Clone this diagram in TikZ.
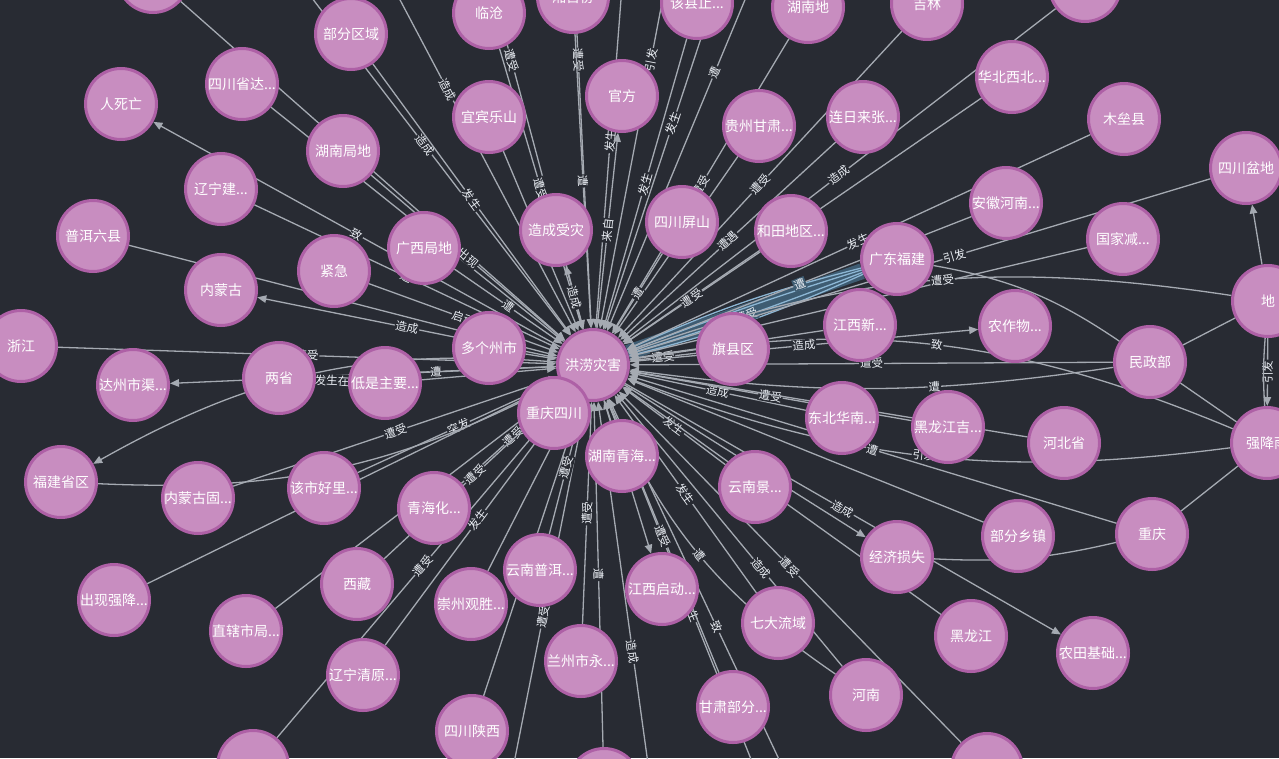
\documentclass[tikz,border=0pt]{standalone}
\usepackage{fontspec}
\setmainfont{Noto Sans CJK SC}
\usetikzlibrary{arrows.meta}
\definecolor{bgc}{RGB}{40,43,51}
\definecolor{nodef}{RGB}{200,141,192}
\definecolor{nodeb}{RGB}{174,96,166}
\definecolor{edgec}{RGB}{165,170,178}
\definecolor{labc}{RGB}{236,240,246}
\definecolor{bandc}{RGB}{62,92,114}
\definecolor{hlc}{RGB}{140,182,212}
\pgfdeclarelayer{back}
\pgfdeclarelayer{edges}
\pgfsetlayers{back,edges,main}
\newcommand\mynf{\fontsize{14pt}{16pt}\selectfont}
\newcommand\mylf{\fontsize{11.5pt}{13pt}\selectfont}
\newcommand\mkN[4]{\node[nd] (#1) at (#2,#3) {\makebox[0pt]{#4}};}
\begin{document}
\begin{tikzpicture}[x=1pt,y=-1pt,
 nd/.style={circle,fill=nodef,draw=nodeb,line width=3pt,minimum size=71pt,inner sep=0pt,font=\mynf,text=white},
 edge/.style={draw=edgec,line width=1.3pt,-{Triangle[length=9pt,width=7.5pt]}},
 plain/.style={draw=edgec,line width=1.3pt},
 hl/.style={draw=hlc,line width=1.3pt,-{Triangle[length=9pt,width=7.5pt]}},
 elab/.style={font=\mylf,text=labc,fill=bgc,inner sep=0.8pt,sloped},
 hlab/.style={elab,fill=bandc},
]
\useasboundingbox (0,0) rectangle (1279,758);
\begin{pgfonlayer}{back}
\fill[bgc] (0,0) rectangle (1279,758);
\end{pgfonlayer}

% nodes
\mkN{n0}{593}{365}{洪涝灾害}
\mkN{nTL}{153}{-23}{}
\mkN{nBQY}{351}{34}{部分区域}
\mkN{nLC}{489}{13}{临沧}
\mkN{nXS}{573}{-3}{湘首份}
\mkN{nGX}{697}{3}{该县止...}
\mkN{nHND}{808}{7}{湖南地}
\mkN{nJL}{927}{4}{吉林}
\mkN{nTR}{1085}{-14}{}
\mkN{nSCD}{242}{84}{四川省达...}
\mkN{nRSW}{121}{104}{人死亡}
\mkN{nGF}{622}{96}{官方}
\mkN{nYB}{489}{117}{宜宾乐山}
\mkN{nGZ}{759}{126}{贵州甘肃...}
\mkN{nLR}{863}{117}{连日来张...}
\mkN{nHB}{1012}{77}{华北西北...}
\mkN{nML}{1124}{119}{木垒县}
\mkN{nSCP}{1246}{168}{四川盆地}
\mkN{nHNJ}{343}{151}{湖南局地}
\mkN{nLNJ}{221}{189}{辽宁建...}
\mkN{nPE}{93}{236}{普洱六县}
\mkN{nZCS}{556}{230}{造成受灾}
\mkN{nSCPS}{682}{222}{四川屏山}
\mkN{nHT}{791}{231}{和田地区...}
\mkN{nAH}{1006}{203}{安徽河南...}
\mkN{nGJ}{1123}{239}{国家减...}
\mkN{nGD}{897}{259}{广东福建}
\mkN{nDI}{1268}{301}{地}
\mkN{nGXJ}{424}{248}{广西局地}
\mkN{nJJ}{334}{271}{紧急}
\mkN{nNMG}{221}{290}{内蒙古}
\mkN{nZJ}{21}{346}{浙江}
\mkN{nLS}{279}{378}{两省}
\mkN{nDZ}{133}{385}{达州市渠...}
\mkN{nDS}{385}{383}{低是主要...}
\mkN{nDG}{489}{348}{多个州市}
\mkN{nQX}{733}{349}{旗县区}
\mkN{nJXX}{860}{325}{江西新...}
\mkN{nNZW}{1015}{326}{农作物...}
\mkN{nMZB}{1150}{362}{民政部}
\mkN{nCQSC}{554}{413}{重庆四川}
\mkN{nDB}{842}{418}{东北华南...}
\mkN{nHLJJ}{948}{427}{黑龙江吉...}
\mkN{nHBS}{1064}{443}{河北省}
\mkN{nQJY}{1267}{443}{强降雨}
\mkN{nHNQ}{622}{456}{湖南青海...}
\mkN{nFJ}{61}{482}{福建省区}
\mkN{nNMGG}{198}{498}{内蒙古固...}
\mkN{nGSH}{324}{488}{该市好里...}
\mkN{nQHH}{434}{508}{青海化...}
\mkN{nYNJ}{755}{487}{云南景...}
\mkN{nJJS}{897}{557}{经济损失}
\mkN{nBFX}{1018}{536}{部分乡镇}
\mkN{nCQ}{1152}{534}{重庆}
\mkN{nCXQ}{114}{600}{出现强降...}
\mkN{nXZ}{357}{584}{西藏}
\mkN{nYNP}{540}{570}{云南普洱...}
\mkN{nCZ}{471}{604}{崇州观胜...}
\mkN{nJXQ}{662}{589}{江西启动...}
\mkN{nQD}{778}{623}{七大流域}
\mkN{nHLJ}{971}{636}{黑龙江}
\mkN{nNT}{1093}{653}{农田基础...}
\mkN{nZX}{246}{631}{直辖市局...}
\mkN{nLNQ}{363}{675}{辽宁清原...}
\mkN{nLZ}{581}{661}{兰州市永...}
\mkN{nHN}{866}{695}{河南}
\mkN{nGSB}{733}{707}{甘肃部分...}
\mkN{nSCSX}{472}{731}{四川陕西}
\mkN{nBL}{253}{766}{}
\mkN{nBM}{604}{784}{}
\mkN{nBR}{987}{769}{}

% off-picture ends
\coordinate (oE) at (253,-79);
\coordinate (oA) at (297,-195);
\coordinate (oG) at (427,-255);
\coordinate (oH) at (563,-255);
\coordinate (oF) at (627,-79);
\coordinate (oI) at (711,-255);
\coordinate (oJ) at (753,-119);
\coordinate (oB) at (841,-231);
\coordinate (oK) at (791,859);
\coordinate (oL) at (843,895);
\coordinate (oD) at (673,945);
\coordinate (oC) at (493,869);

\begin{pgfonlayer}{edges}
% highlighted band
\draw[bandc,line width=16pt] (n0) -- (nGD);
\draw[hl] (nGD) to[bend left=5] (n0);
\draw[hl] (nGD) to[bend left=2] node[hlab]{遭受} (n0);
\draw[hl] (nGD) to[bend right=2] (n0);
\draw[hl] (nGD) to[bend right=5] (n0);

% off-picture
\draw[edge] (oE) to node[elab,pos=0.54]{造成} (n0);
\draw[edge] (oA) to node[elab,pos=0.54]{造成} (n0);
\draw[edge] (oG) to node[elab,pos=0.54]{遭受} (n0);
\draw[edge] (oH) to node[elab,pos=0.54]{遭受} (n0);
\draw[edge] (oF) to node[elab,pos=0.54]{发生} (n0);
\draw[edge] (oI) to node[elab,pos=0.54]{引发} (n0);
\draw[edge] (oJ) to node[elab,pos=0.54]{发生} (n0);
\draw[edge] (oB) to node[elab,pos=0.54]{遭} (n0);
\draw[edge] (oK) to node[elab,pos=0.54]{发生} (n0);
\draw[edge] (oL) to node[elab,pos=0.54]{致} (n0);
\draw[edge] (oD) to node[elab,pos=0.54]{造成} (n0);
\draw[edge] (oC) to node[elab,pos=0.54]{遭受} (n0);

% into the centre
\draw[edge] (nTL) -- (n0);
\draw[edge] (nBQY) -- node[elab]{发生} (n0);
\draw[edge] (nLC) -- node[elab]{遭受} (n0);
\draw[edge] (nXS) -- node[elab]{遭} (n0);
\draw[edge] (nGX) -- node[elab]{发生} (n0);
\draw[edge] (nHND) -- node[elab]{遭受} (n0);
\draw[edge] (nJL) -- node[elab]{遭受} (n0);
\draw[edge] (nTR) -- node[elab]{造成} (n0);
\draw[edge] (nSCD) -- node[elab]{发生} (n0);
\draw[edge] (nYB) -- (n0);
\draw[edge] (nGZ) -- (n0);
\draw[edge] (nLR) -- node[elab]{遭遇} (n0);
\draw[edge] (nHB) -- (n0);
\draw[edge] (nML) -- node[elab]{发生} (n0);
\draw[edge] (nSCP) -- node[elab,pos=0.44]{引发} (n0);
\draw[edge] (nHNJ) -- node[elab]{出现} (n0);
\draw[edge] (nLNJ) -- node[elab]{遭} (n0);
\draw[edge] (nPE) -- (n0);
\draw[edge] (nSCPS) -- node[elab]{遭} (n0);
\draw[edge] (nHT) -- node[elab]{遭受} (n0);
\draw[edge] (nAH) -- node[hlab]{遭} (n0);
\draw[edge] (nGJ) -- (n0);
\draw[edge] (nDI) to[bend right=14] node[elab,pos=0.47]{遭受} (n0);
\draw[edge] (nGXJ) -- node[elab]{遭} (n0);
\draw[edge] (nJJ) -- node[elab]{启动} (n0);
\draw[edge] (nZJ) -- node[elab]{遭受} (n0);
\draw[edge] (nLS) -- node[elab]{遭} (n0);
\draw[edge] (nDS) -- (n0);
\draw[edge] (nDG) -- (n0);
\draw[edge] (nQX) -- node[elab]{遭受} (n0);
\draw[edge] (nJXX) -- (n0);
\draw[edge] (nMZB) -- node[elab]{遭受} (n0);
\draw[edge] (nMZB) to[bend left=8] node[elab,pos=0.36]{遭} (n0);
\draw[edge] (nDB) -- node[elab]{造成} (n0);
\draw[edge] (nHLJJ) -- node[elab]{遭受} (n0);
\draw[edge] (nHBS) -- (n0);
\draw[edge] (nQJY) to[bend right=16] node[elab]{致} (n0);
\draw[edge] (nQJY) to[bend left=14] node[elab]{引发} (n0);
\draw[edge] (nHNQ) -- (n0);
\draw[edge] (nNMGG) -- node[elab]{遭受} (n0);
\draw[edge] (nGSH) -- node[elab]{突发} (n0);
\draw[edge] (nQHH) -- node[elab]{遭受} (n0);
\draw[edge] (nYNJ) -- node[elab]{发生} (n0);
\draw[edge] (nBFX) -- (n0);
\draw[edge] (nCQ) -- node[elab]{遭} (n0);
\draw[edge] (nCXQ) -- (n0);
\draw[edge] (nXZ) -- node[elab]{遭受} (n0);
\draw[edge] (nYNP) -- node[elab]{遭受} (n0);
\draw[edge] (nCZ) -- (n0);
\draw[edge] (nQD) -- node[elab]{发生} (n0);
\draw[edge] (nHLJ) -- (n0);
\draw[edge] (nZX) -- (n0);
\draw[edge] (nLNQ) -- node[elab]{发生} (n0);
\draw[edge] (nLZ) -- node[elab]{遭受} (n0);
\draw[edge] (nHN) -- node[elab,pos=0.36]{造成} (n0);
\draw[edge] (nHN) to[bend left=16] node[elab]{遭} (n0);
\draw[edge] (nGSB) -- node[elab]{遭受} (n0);
\draw[edge] (nSCSX) -- (n0);
\draw[edge] (nBL) -- node[elab]{遭受} (n0);
\draw[edge] (nBM) -- node[elab]{遭} (n0);
\draw[edge] (nBR) -- node[elab]{遭受} (n0);
\draw[edge] (nFJ) to[bend right=15] (n0);

% out of the centre
\draw[edge] (n0) -- node[elab]{致} (nRSW);
\draw[edge] (n0) -- node[elab]{来自} (nGF);
\draw[edge] (n0) -- node[elab]{造成} (nZCS);
\draw[edge] (n0) -- node[elab]{造成} (nNMG);
\draw[edge] (n0) -- (nDZ);
\draw[edge] (n0) to[bend right=17] (nFJ);
\draw[edge] (n0) -- node[elab]{造成} (nNZW);
\draw[edge] (n0) -- (nJJS);
\draw[edge] (n0) -- node[elab]{造成} (nNT);
\draw[edge] (n0) -- (nJXQ);

% other links
\draw[plain] (nLS) -- node[elab]{发生在} (nDS);
\draw[edge] (nDI) -- (nSCP);
\draw[edge] (nDI) -- node[elab]{引发} (nQJY);
\draw[plain] (nDI) to[bend right=4] (nQJY);
\draw[plain] (nDI) -- (nMZB);
\draw[plain] (nMZB) -- (nQJY);
\draw[plain] (nCQ) -- (nQJY);
\draw[plain] (nJJS) to[bend right=8] (nCQ);
\draw[plain] (nGD) to[bend left=12] (nMZB);
\end{pgfonlayer}
\end{tikzpicture}
\end{document}
